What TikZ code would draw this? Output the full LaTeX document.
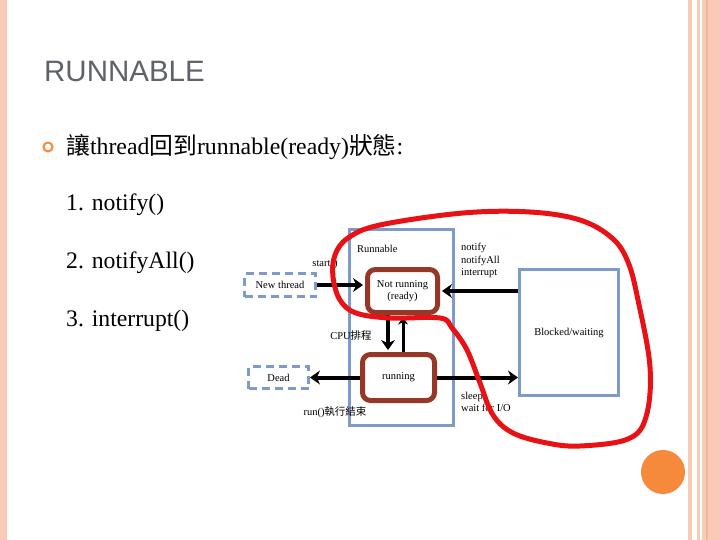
\documentclass[tikz,border=0pt]{standalone}
\usepackage{fontspec}
\setmainfont{Liberation Serif}
\newfontfamily\titlefont{Liberation Sans}
\newfontfamily\cjkfont{Noto Sans CJK TC}
\newcommand{\zh}[1]{{\cjkfont #1}}
\usetikzlibrary{arrows.meta,positioning}
\definecolor{boxblue}{RGB}{126,154,200}
\definecolor{statebrown}{RGB}{150,56,40}
\definecolor{loopred}{RGB}{232,18,22}
\definecolor{stripepink}{RGB}{250,202,184}
\definecolor{stripedark}{RGB}{244,180,158}
\definecolor{dotorange}{RGB}{246,138,60}
\definecolor{titlegray}{RGB}{95,99,105}

\begin{document}
\begin{tikzpicture}[x=1pt,y=-1pt,
        state/.style={draw=statebrown, line width=5pt, rounded corners=8pt, align=center, font=\fontsize{10.5}{12}\selectfont},
        outer/.style={draw=boxblue, line width=3pt, font=\fontsize{10.5}{12}\selectfont},
        endstate/.style={draw=boxblue, line width=3pt, dash pattern=on 8pt off 5pt, font=\fontsize{10.5}{12}\selectfont},
        flow/.style={line width=4pt, -{Stealth[length=10pt,width=14pt]}},
        lbl/.style={font=\fontsize{10.5}{12.5}\selectfont, inner sep=0pt},
        item/.style={anchor=base west, inner sep=0pt, font=\fontsize{23.7}{24}\selectfont}]
    \useasboundingbox (0,0) rectangle (720,540);
    \fill[stripepink] (0,0) rectangle (7,540);
    \fill[stripepink] (688,0) rectangle (692,540);
    \fill[stripepink] (697,0) rectangle (700,540);
    \fill[stripepink] (702,0) rectangle (720,540);
    \fill[stripedark] (706,0) rectangle (707.5,540);
    \fill[dotorange] (663,472) circle (22);

    \node[anchor=base west, inner sep=0pt, text=titlegray, font=\titlefont\fontsize{29.5}{30}\selectfont] (title) at (44,82) {RUNNABLE};
    \node[circle, draw=dotorange, line width=2pt, minimum size=9pt, inner sep=0pt] (bullet) at (48,147) {};
    \node[item, font=\fontsize{23.8}{24}\selectfont] (head) at (66,155) {\zh{讓}thread\zh{回到}runnable(ready)\zh{狀態}:};
    \node[item] (item1) at (66,211) {1. notify()};
    \node[item] (item2) at (66,268) {2. notifyAll()};
    \node[item] (item3) at (66,326) {3. interrupt()};

    \node[outer, minimum width=104pt, minimum height=196pt] (runnable) at (401.5,327.5) {};
    \node[lbl, anchor=west] (runlbl) at (357,249) {Runnable};
    \node[state, minimum width=70pt, minimum height=43pt] (ready) at (402.5,291) {Not running\\(ready)};
    \node[state, minimum width=72pt, minimum height=46pt] (running) at (398.5,377.5) {running};
    \node[endstate, minimum width=71pt, minimum height=23pt] (newthread) at (280,285) {New thread};
    \node[endstate, minimum width=60pt, minimum height=22pt] (dead) at (278.5,377.5) {Dead};
    \node[outer, minimum width=99pt, minimum height=126pt] (blocked) at (569,332.5) {Blocked/waiting};

    \draw[flow, shorten >=2pt] (newthread.east) -- (newthread.east -| ready.west);
    \draw[flow, shorten >=2pt] (blocked.west |- ready.east) -- (ready.east);
    \draw[flow] (running.east) -- (running.east -| blocked.west);
    \draw[flow] (running.west) -- (dead.east);
    \draw[flow, shorten >=2pt] ([xshift=-14.5pt]ready.south) -- ([xshift=-14.5pt]ready.south |- running.north);
    \draw[line width=3pt, shorten >=2.5pt, -{Stealth[length=7pt,width=10pt]}] ([xshift=0.5pt]ready.south |- running.north) -- ([xshift=0.5pt]ready.south);

    \node[lbl] (start) at (325,264) {start()};
    \node[lbl, align=left, anchor=north west] (wakeup) at (461,243) {notify\\notifyAll\\interrupt};
    \node[lbl] (cpu) at (351,336) {CPU\zh{排程}};
    \node[lbl] (finish) at (335,412) {run()\zh{執行結束}};
    \node[lbl, align=left, anchor=north west] (sleep) at (461,392) {sleep\\wait for I/O};

    \draw[loopred, line width=5pt] plot[smooth cycle, tension=0.6] coordinates {
        (390,318) (440,318) (452,328) (467,350) (480,383) (493,415) (513,433) (547,443)
        (580,446) (628,439) (646,417) (650,367) (638,300) (628,262) (612,238) (580,220)
        (530,212) (463,213) (380,225) (348,238) (335,255) (333,277) (340,300) (356,313)};
\end{tikzpicture}
\end{document}
